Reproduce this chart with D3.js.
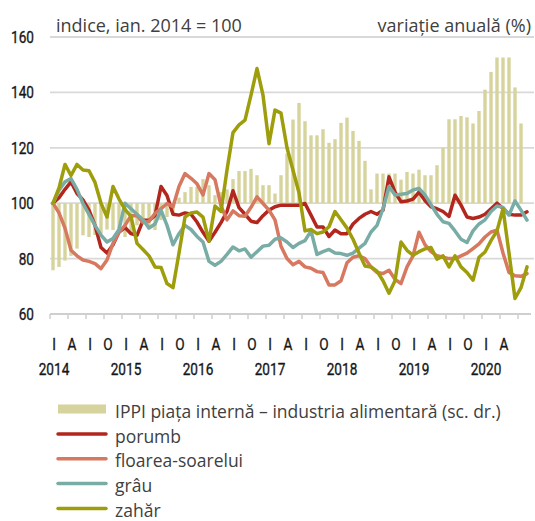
<!DOCTYPE html>
<html lang="ro">
<head>
<meta charset="UTF-8">
<title>Preturi produse agricole si IPPI</title>
<script src="https://d3js.org/d3.v7.min.js"></script>
<style>
    body { margin: 0; background: #fff; }
    svg { display: block; }
</style>
</head>
<body>
<script>
// lunar, ian. 2014 - aug. 2020 (indice, ian. 2014 = 100)
const years = [2014, 2015, 2016, 2017, 2018, 2019, 2020];
const monthLabels = { 0: "I", 3: "A", 6: "I", 9: "O" };
const leftTicks = [60, 80, 100, 120, 140, 160];

const porumb = [
    100, 102, 105, 107.7, 103.5, 101.2, 97.5, 92, 84, 82,
    85, 89.6, 91.2, 89, 88.4, 93.8, 93.8, 95.5, 106, 102.8,
    96, 95.7, 96.5, 96, 93.2, 89.5, 86.3, 89.5, 93, 97,
    104.5, 98.4, 96, 93.5, 93, 95.5, 97.5, 98.7, 99.3, 99.3,
    99.3, 99.3, 99.9, 95.7, 91.4, 91.4, 88, 90.3, 89, 89,
    92.5, 94.5, 96, 97, 96, 97.5, 109.5, 104, 100.5, 100.8,
    101.5, 104, 101, 98.7, 98, 97, 95.2, 102.9, 99.3, 95,
    94.5, 95, 96, 98, 100, 98.1, 96, 95.7, 95.7, 96.9
];
const floarea = [
    100, 96.5, 91, 83, 81, 79.5, 79, 78.2, 76.4, 79.5,
    85.5, 89.5, 92, 95.5, 95.5, 93, 93.5, 96.3, 98, 99.9,
    98.7, 106, 110.7, 109, 107, 103, 110.7, 108.5, 99, 94,
    97.2, 95.5, 95.3, 98.5, 102.3, 99.9, 97.5, 94, 84.5, 80,
    77.8, 79, 77, 76.5, 75.3, 75, 70.5, 70.5, 72, 78.5,
    80.5, 81, 80, 77, 75, 74.6, 75.8, 72.5, 71, 77,
    81, 89.5, 85, 82.5, 81, 80.5, 80, 80, 81, 82,
    83.6, 85.3, 87.8, 89.6, 90.3, 82, 75, 73.8, 73.6, 74.6
];
const grau = [
    100, 104.7, 107.7, 108.9, 105, 99.9, 96, 92, 88.5, 86,
    87.3, 90.5, 100, 98, 96, 94, 91, 92.5, 97.5, 92,
    85, 89, 92, 90.5, 88, 86, 79, 77.6, 79, 81.5,
    84.2, 82.8, 83.5, 80.5, 82.5, 84.5, 84.8, 87, 87.5, 86,
    84, 85.5, 86.5, 90, 81.5, 82.5, 83.3, 82, 81.8, 81.2,
    82, 83.8, 85.5, 89.6, 92, 98, 106, 103, 103.2, 103.5,
    104.8, 105.3, 103, 99.5, 96, 93.3, 92.7, 90, 87, 85.8,
    90, 92.5, 94, 97, 99, 98.5, 95.7, 100.8, 97.5, 93.9
];
const zahar = [
    100, 105.5, 114, 110, 114, 112, 111.7, 107.5, 100, 95,
    106, 101.5, 97.8, 95.2, 85.5, 83.3, 81, 77, 76.8, 71,
    69.5, 82, 95, 96.5, 96.8, 95, 86.3, 99, 97, 112,
    125.5, 128.3, 130, 139, 148.6, 139, 121.5, 133.6, 132.5, 120,
    111.9, 103.8, 90, 90.5, 89, 89.6, 91.5, 97, 94, 91,
    87, 82, 77.3, 77, 75.5, 72, 67.5, 72, 86, 83,
    81.2, 82.5, 83.5, 84, 79.8, 81, 77, 81, 77, 75,
    72.2, 80.5, 82.4, 86.5, 90, 98, 82, 65.6, 69.5, 77
];
// IPPI piata interna - industria alimentara, variatie anuala (%), ian. 2014 - iul. 2020
const ippi = [
    -2.42, -2.3, -2.07, -1.9, -1.64, -1.16, -1.22, -1.15, -1.1, -0.95,
    -0.97, -0.97, -1.22, -1.1, -0.8, -0.7, -0.85, -0.97, -0.61, -0.5,
    -0.4, 0.2, 0.4, 0.59, 0.59, 0.87, 0.65, 0.29, 0.4, 0.5,
    0.87, 1.16, 1.16, 1.24, 1.01, 0.65, 0.65, 0.35, 1.01, 1.79,
    3.02, 3.62, 2.96, 2.45, 2.45, 2.67, 2.18, 2.31, 2.9, 3.09,
    2.61, 2.25, 1.53, 0.5, 1.07, 1.07, 1.07, 1.07, 0.85, 1.13,
    1.07, 1.21, 1.01, 1.01, 1.37, 2.0, 3.03, 3.03, 3.15, 3.1,
    2.88, 3.33, 4.1, 4.74, 5.26, 5.26, 5.26, 4.18, 2.88
];

const series = [
    { name: "porumb", values: porumb, color: "#b3261e" },
    { name: "floarea-soarelui", values: floarea, color: "#d77860" },
    { name: "grâu", values: grau, color: "#7aaca6" },
    { name: "zahăr", values: zahar, color: "#9e9d0c" }
];
const barColor = "#d6d49c";
const gridColor = "#d9d9d9";

const width = 535, height = 521;
const svg = d3.select("body").append("svg").attr("width", width).attr("height", height);

const x = d3.scaleLinear().domain([-0.5, 79.5]).range([50, 530]);
const y = d3.scaleLinear().domain([60, 160]).range([314, 37]);
const yr = d3.scaleLinear().domain([-4, 6]).range([314, 37]);

// grid
svg.append("g").selectAll("line")
    .data(leftTicks.slice(1))
    .enter().append("line")
    .attr("x1", 50).attr("x2", 534)
    .attr("y1", d => y(d)).attr("y2", d => y(d))
    .attr("stroke", gridColor).attr("stroke-width", 1.8);

// axis labels: condensed look
const axisFont = "Roboto, 'Liberation Sans', sans-serif";
function axisText(sel) {
    sel.style("font-family", axisFont).style("font-size", "17px")
        .attr("fill", "#161616").attr("stroke", "#161616").attr("stroke-width", 0.35);
}

svg.append("g").selectAll("text")
    .data(leftTicks)
    .enter().append("text")
    .attr("transform", d => `translate(34,${y(d) + 6}) scale(0.8,1)`)
    .attr("text-anchor", "end")
    .call(axisText)
    .text(d => d);

// bars
svg.append("g").selectAll("rect")
    .data(ippi)
    .enter().append("rect")
    .attr("x", (d, i) => x(i) - 1.7)
    .attr("width", 3.4)
    .attr("y", d => Math.min(yr(d), yr(0)))
    .attr("height", d => Math.abs(yr(d) - yr(0)))
    .attr("fill", barColor);

// x axis
svg.append("line")
    .attr("x1", 50).attr("x2", 531)
    .attr("y1", y(60)).attr("y2", y(60))
    .attr("stroke", "#cfcfcf").attr("stroke-width", 1.8);

const tickIdx = d3.range(0, 79, 3);
svg.append("g").selectAll("line")
    .data(tickIdx)
    .enter().append("line")
    .attr("x1", d => x(d - 0.5)).attr("x2", d => x(d - 0.5))
    .attr("y1", y(60)).attr("y2", y(60) + 5)
    .attr("stroke", "#cfcfcf").attr("stroke-width", 1.5);

svg.append("g").selectAll("text")
    .data(d3.range(0, 76, 3))
    .enter().append("text")
    .attr("transform", d => `translate(${x(d) + 1},350) scale(0.8,1)`)
    .attr("text-anchor", "middle")
    .call(axisText)
    .text(d => monthLabels[d % 12]);

svg.append("g").selectAll("text")
    .data(years)
    .enter().append("text")
    .attr("transform", (d, i) => `translate(${x(i * 12) + 1},375) scale(0.8,1)`)
    .attr("text-anchor", "middle")
    .call(axisText)
    .text(d => d);

// lines
const line = d3.line().x((d, i) => x(i)).y(d => y(d));
svg.append("g").selectAll("path")
    .data(series)
    .enter().append("path")
    .attr("d", d => line(d.values))
    .attr("fill", "none")
    .attr("stroke", d => d.color)
    .attr("stroke-width", 3.5)
    .attr("stroke-linejoin", "round")
    .attr("stroke-linecap", "round");

// titles
const textFont = "'Open Sans', sans-serif";
svg.append("text").attr("x", 56).attr("y", 31.5)
    .style("font-family", textFont).style("font-size", "18px").attr("fill", "#404040")
    .text("indice, ian. 2014 = 100");
svg.append("text").attr("x", 531).attr("y", 31.5).attr("text-anchor", "end")
    .style("font-family", textFont).style("font-size", "18px").attr("fill", "#404040")
    .text("variaţie anuală (%)");

// legend
const legend = svg.append("g");
legend.append("rect").attr("x", 58).attr("y", 404.5).attr("width", 48).attr("height", 9).attr("fill", barColor);
legend.append("text").attr("x", 115).attr("y", 417.5)
    .style("font-family", textFont).style("font-size", "17.5px").attr("fill", "#404040")
    .text("IPPI piața internă – industria alimentară (sc. dr.)");

const items = legend.selectAll("g.item")
    .data(series)
    .enter().append("g")
    .attr("class", "item")
    .attr("transform", (d, i) => `translate(0,${434 + i * 24.8})`);
items.append("line")
    .attr("x1", 58).attr("x2", 106)
    .attr("stroke", d => d.color).attr("stroke-width", 3.5).attr("stroke-linecap", "round");
items.append("text").attr("x", 115).attr("y", 8.5)
    .style("font-family", textFont).style("font-size", "17.5px").attr("fill", "#404040")
    .text(d => d.name);
</script>
</body>
</html>
